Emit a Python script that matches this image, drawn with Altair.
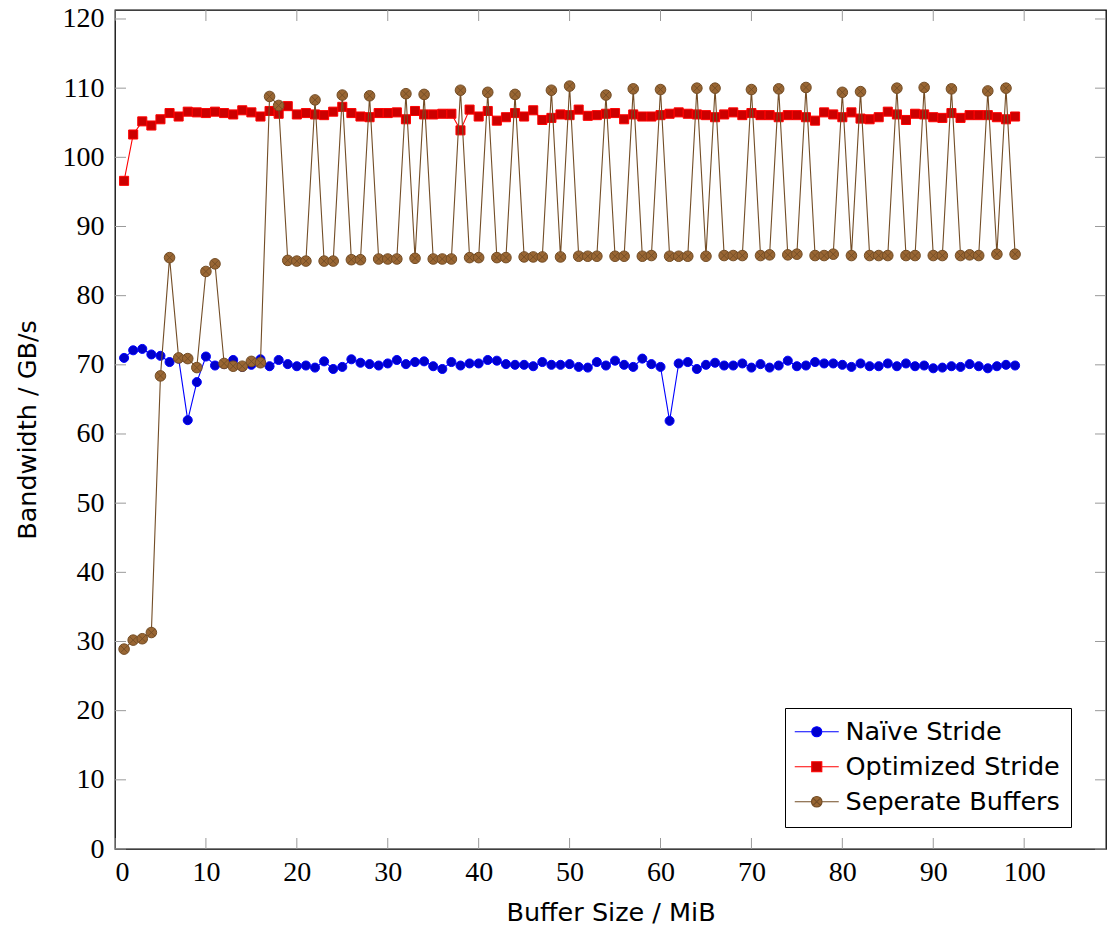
import altair as alt
import pandas as pd

# ---------------- data ----------------
sizes = list(range(1, 100))

naive = [71.0, 72.1, 72.3, 71.5, 71.3, 70.4, 70.9, 62.0, 67.5, 71.2,
         69.9, 70.1, 70.7, 69.7, 70.0, 70.8, 69.8, 70.7, 70.1, 69.8,
         69.9, 69.6, 70.5, 69.4, 69.7, 70.8, 70.3, 70.1, 69.9, 70.2,
         70.7, 70.1, 70.4, 70.5, 69.8, 69.4, 70.4, 69.9, 70.2, 70.2,
         70.7, 70.6, 70.1, 70.0, 70.0, 69.8, 70.4, 70.0, 70.0, 70.1,
         69.7, 69.6, 70.4, 69.9, 70.6, 70.0, 69.7, 70.9, 70.1, 69.7,
         61.9, 70.2, 70.4, 69.4, 70.0, 70.3, 69.9, 69.9, 70.2, 69.6,
         70.1, 69.6, 69.9, 70.6, 69.8, 69.9, 70.4, 70.2, 70.2, 70.0,
         69.7, 70.2, 69.8, 69.8, 70.2, 69.8, 70.2, 69.8, 69.9, 69.5,
         69.6, 69.8, 69.7, 70.1, 69.8, 69.5, 69.8, 70.0, 69.9]

optimized = [96.6, 103.3, 105.2, 104.6, 105.5, 106.4, 105.9, 106.6, 106.5, 106.4,
             106.6, 106.4, 106.2, 106.8, 106.5, 105.9, 106.7, 106.3, 107.4, 106.2,
             106.4, 106.2, 106.1, 106.6, 107.3, 106.4, 105.9, 105.8, 106.4, 106.4,
             106.5, 105.5, 106.7, 106.2, 106.2, 106.3, 106.3, 103.9, 106.9, 105.9,
             106.7, 105.3, 105.8, 106.4, 105.9, 106.8, 105.4, 105.7, 106.2, 106.1,
             106.9, 106.0, 106.1, 106.3, 106.4, 105.5, 106.2, 105.9, 105.9, 106.1,
             106.3, 106.5, 106.3, 106.2, 106.1, 105.8, 106.2, 106.5, 106.1, 106.4,
             106.1, 106.1, 105.8, 106.1, 106.1, 105.8, 105.3, 106.5, 106.2, 105.8,
             106.5, 105.6, 105.5, 105.8, 106.6, 106.2, 105.4, 106.3, 106.2, 105.8,
             105.7, 106.4, 105.7, 106.1, 106.1, 106.1, 105.8, 105.5, 105.9]

separate = [28.9, 30.2, 30.4, 31.3, 68.4, 85.5, 71.0, 70.9, 69.6, 83.5,
            84.6, 70.2, 69.8, 69.8, 70.5, 70.3, 108.8, 107.5, 85.1, 85.0,
            85.0, 108.3, 85.0, 85.0, 109.0, 85.2, 85.2, 108.9, 85.3, 85.3,
            85.3, 109.2, 85.4, 109.1, 85.3, 85.3, 85.3, 109.7, 85.5, 85.5,
            109.4, 85.5, 85.5, 109.1, 85.6, 85.6, 85.6, 109.7, 85.6, 110.3,
            85.7, 85.7, 85.7, 109.0, 85.7, 85.7, 109.9, 85.7, 85.8, 109.8,
            85.7, 85.7, 85.7, 110.0, 85.7, 110.0, 85.8, 85.8, 85.8, 109.8,
            85.8, 85.9, 109.9, 85.9, 86.0, 110.1, 85.8, 85.8, 86.0, 109.4,
            85.8, 109.5, 85.8, 85.8, 85.8, 110.0, 85.8, 85.8, 110.1, 85.8,
            85.8, 109.9, 85.8, 85.9, 85.8, 109.6, 86.0, 110.0, 86.0]

series_names = ["Naïve Stride", "Optimized Stride", "Seperate Buffers"]
line_colors = ["#0000ff", "#ff0000", "#734d26"]
fill_colors = ["#0000cc", "#cc0000", "#996633"]
marker_shapes = ["circle", "square", "circle"]
marker_sizes = [82, 82, 112]

x_ticks = list(range(0, 101, 10))
y_ticks = list(range(0, 121, 10))

SANS = "DejaVu Sans"
SERIF = "Liberation Serif"
SANS_SIZE = 25.5
W, H = 991, 839
TICK = 11

# legend symbols: line segment + marker (coordinates in symbol units)
legend_paths = [
    "M-4.4,0L-1,0M1,0L4.4,0M1,0A1,1,0,1,1,-1,0A1,1,0,1,1,1,0Z",
    "M-4.4,0L-1,0M1,0L4.4,0M-1,-1L1,-1L1,1L-1,1Z",
    "M-4.4,0L-1.05,0M1.05,0L4.4,0M1.05,0A1.05,1.05,0,1,1,-1.05,0A1.05,1.05,0,1,1,1.05,0Z"
    "M-0.74,-0.74L0.74,0.74M-0.74,0.74L0.74,-0.74",
]
x_path = "M-0.707,-0.707L0.707,0.707M-0.707,0.707L0.707,-0.707"

rows = []
for name, vals in zip(series_names, [naive, optimized, separate]):
    for s, v in zip(sizes, vals):
        rows.append({"size": s, "bw": v, "series": name})
df = pd.DataFrame(rows)

x_enc = alt.X(
    "size:Q",
    scale=alt.Scale(domain=[0, 109], nice=False, zero=False),
    axis=alt.Axis(values=x_ticks, title="Buffer Size / MiB", labelPadding=31,
                  labelBaseline="alphabetic", titleBaseline="alphabetic", titleY=71),
)
y_enc = alt.Y(
    "bw:Q",
    scale=alt.Scale(domain=[0, 121.3], nice=False),
    axis=alt.Axis(values=y_ticks, title="Bandwidth / GB/s", labelPadding=11,
                  titleBaseline="alphabetic", titleX=-80, titleY=H / 2),
)

tick_color = "#9a9a9a"
ydf = pd.DataFrame({"bw": y_ticks})
xdf = pd.DataFrame({"size": x_ticks})
layers = [
    alt.Chart(ydf).mark_rule(color=tick_color, strokeWidth=1).encode(
        y=y_enc, x=alt.value(0), x2=alt.value(TICK)),
    alt.Chart(ydf).mark_rule(color=tick_color, strokeWidth=1).encode(
        y=y_enc, x=alt.value(W - TICK), x2=alt.value(W)),
    alt.Chart(xdf).mark_rule(color=tick_color, strokeWidth=1).encode(
        x=x_enc, y=alt.value(H - TICK), y2=alt.value(H)),
    alt.Chart(xdf).mark_rule(color=tick_color, strokeWidth=1).encode(
        x=x_enc, y=alt.value(0), y2=alt.value(TICK)),
]

base = alt.Chart(df)
for name, lc, fc, shp, sz in zip(series_names, line_colors, fill_colors, marker_shapes, marker_sizes):
    sub = base.transform_filter(alt.datum.series == name)
    layers.append(sub.mark_line(color=lc, strokeWidth=1.1).encode(x=x_enc, y=y_enc))
    layers.append(sub.mark_point(shape=shp, filled=True, fill=fc, stroke=lc, strokeWidth=1,
                                 size=sz, opacity=1).encode(x=x_enc, y=y_enc))
    if name == "Seperate Buffers":
        layers.append(sub.mark_point(shape=x_path, filled=False, stroke=lc, strokeWidth=0.9,
                                     size=112, opacity=1).encode(x=x_enc, y=y_enc))

leg = alt.Legend(
    title=None, orient="none", legendX=670, legendY=698, direction="vertical",
    fillColor="white", strokeColor="black", padding=11, cornerRadius=0,
    labelFont=SANS, labelFontSize=SANS_SIZE, labelColor="black", labelLimit=600,
    symbolSize=100, symbolStrokeWidth=1.2, symbolOffset=8, labelOffset=16, rowPadding=8,
)
legend_layer = base.transform_filter("false").mark_point(filled=True, opacity=1, strokeWidth=1.2).encode(
    x=x_enc, y=y_enc,
    shape=alt.Shape("series:N", scale=alt.Scale(domain=series_names, range=legend_paths), legend=leg),
    fill=alt.Fill("series:N", scale=alt.Scale(domain=series_names, range=fill_colors), legend=leg),
    stroke=alt.Stroke("series:N", scale=alt.Scale(domain=series_names, range=line_colors), legend=leg),
)
layers.append(legend_layer)

chart = alt.layer(*layers).properties(
    width=W, height=H,
    padding={"left": 115, "top": 10, "right": 1, "bottom": 79},
    autosize=alt.AutoSizeParams(type="none"),
).configure_view(
    stroke="black", strokeWidth=1.3
).configure_axis(
    domain=False, ticks=False, tickSize=0, grid=False,
    labelFont=SERIF, labelFontSize=28, labelColor="black",
    titleFont=SANS, titleFontSize=SANS_SIZE, titleFontWeight="normal", titleColor="black",
)

chart.save("out.html", embed_options={"renderer": "svg", "actions": False})
